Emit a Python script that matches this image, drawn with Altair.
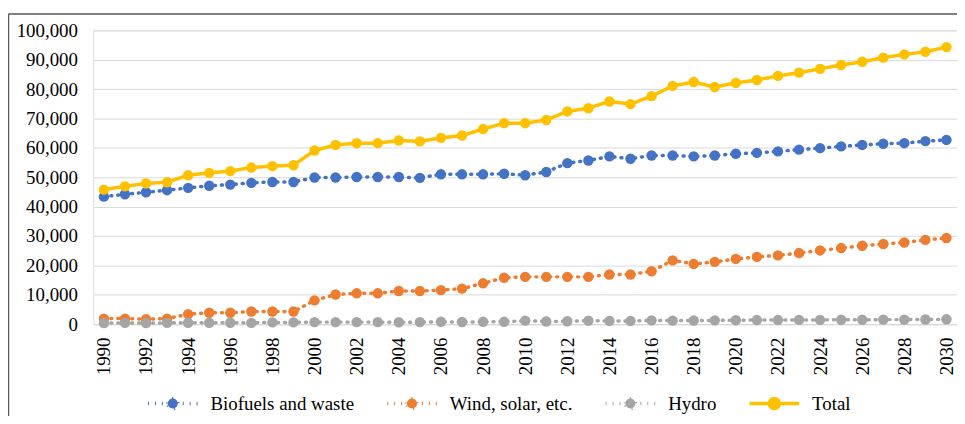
import altair as alt
import pandas as pd

years = list(range(1990, 2031))
series = ["Biofuels and waste", "Wind, solar, etc.", "Hydro", "Total"]
colors = ["#4472C4", "#ED7D31", "#A5A5A5", "#FFC000"]

biofuels = [43400, 44200, 44900, 45600, 46400, 47100, 47500, 48100, 48400, 48400,
            49900, 49900, 50100, 50100, 50100, 49800, 51000, 51000, 51000, 51200,
            50700, 51800, 54800, 55700, 57100, 56300, 57400, 57400, 57100, 57400,
            58000, 58300, 58800, 59400, 59900, 60500, 61000, 61400, 61600, 62300, 62700]
wind = [1900, 1900, 1700, 1900, 3400, 3900, 3900, 4300, 4300, 4300,
        8100, 10100, 10500, 10500, 11300, 11300, 11600, 12100, 13900, 15800,
        16100, 16100, 16100, 16100, 16900, 16900, 18000, 21700, 20500, 21200,
        22200, 22900, 23400, 24200, 25100, 25900, 26700, 27300, 27800, 28700, 29300]
hydro = [400, 450, 400, 450, 500, 500, 500, 450, 600, 600,
         700, 700, 700, 700, 650, 700, 800, 750, 800, 800,
         1200, 900, 1000, 1200, 1100, 1100, 1300, 1200, 1250, 1300,
         1350, 1400, 1400, 1450, 1450, 1500, 1500, 1550, 1550, 1600, 1650]
total = [45800, 46900, 47900, 48300, 50700, 51500, 52100, 53300, 53800, 54100,
         59100, 61000, 61600, 61600, 62500, 62200, 63400, 64200, 66400, 68400,
         68400, 69500, 72400, 73500, 75800, 74900, 77600, 81100, 82400, 80700,
         82100, 83100, 84500, 85600, 86900, 88200, 89300, 90700, 91800, 92700, 94300]
y_ticks = list(range(0, 100001, 10000))
x_labels = list(range(1990, 2031, 2))

rows = []
for s, vals in zip(series, [biofuels, wind, hydro, total]):
    for yr, v in zip(years, vals):
        rows.append({"Year": yr, "Series": s, "Value": v})
df = pd.DataFrame(rows)

FONT = "Liberation Serif"
sym_path = "M-1,0L1,0M-0.2,0A0.2,0.2,0,1,1,0.2,0A0.2,0.2,0,1,1,-0.2,0Z"

leg = alt.Legend(title=None, orient="none", legendX=53, legendY=349,
                 direction="horizontal", symbolType=sym_path, symbolSize=2500,
                 symbolStrokeWidth=3, labelFontSize=19, labelFont=FONT,
                 labelColor="black", labelOffset=11, columnPadding=26, padding=0)

color = alt.Color("Series:N", scale=alt.Scale(domain=series, range=colors),
                  sort=series, legend=leg)

x = alt.X("Year:O", title=None,
          axis=alt.Axis(values=x_labels, labelAngle=-90, labelAlign="right",
                        labelBaseline="middle", labelPadding=13, ticks=False,
                        domainColor="#D9D9D9", domainWidth=1, grid=False,
                        labelFontSize=19, labelFont=FONT, labelColor="black"))
y = alt.Y("Value:Q", title=None,
          scale=alt.Scale(domain=[0, 100000], nice=False),
          axis=alt.Axis(values=y_ticks, format=",.0f", domain=False, ticks=False,
                        gridColor="#D9D9D9", gridWidth=1, labelPadding=16,
                        labelFontSize=19, labelFont=FONT, labelColor="black"))

lines = alt.Chart(df).mark_line(strokeCap="round").encode(
    x=x, y=y, color=color,
    strokeDash=alt.StrokeDash("Series:N",
                              scale=alt.Scale(domain=series,
                                              range=[[1, 6], [1, 6], [1, 6], [1, 0]]),
                              sort=series, legend=leg),
    strokeWidth=alt.StrokeWidth("Series:N",
                                scale=alt.Scale(domain=series, range=[3.5, 3.5, 3.5, 4.5]),
                                legend=None),
    detail="Series:N",
)

points = alt.Chart(df).mark_point(filled=True, size=110, opacity=1).encode(
    x=x, y=y, color=color,
)

frame_data = alt.Data(values=[{"k": 1}])
frame_left = alt.Chart(frame_data).mark_rule(color="#595959", strokeWidth=1.5).encode(
    x=alt.value(-85.5), y=alt.value(-16.5), y2=alt.value(600))
frame_top = alt.Chart(frame_data).mark_rule(color="#595959", strokeWidth=1.5).encode(
    x=alt.value(-85.5), x2=alt.value(1000), y=alt.value(-16.5))

chart = alt.layer(lines, points, frame_left, frame_top).properties(
    width=870, height=296,
    autosize=alt.AutoSizeParams(type="none"),
    padding={"left": 86, "top": 21, "right": 0, "bottom": 91},
).configure_view(stroke=None).configure(font=FONT)

chart.save("out.html", embed_options={"renderer": "svg", "actions": False})
